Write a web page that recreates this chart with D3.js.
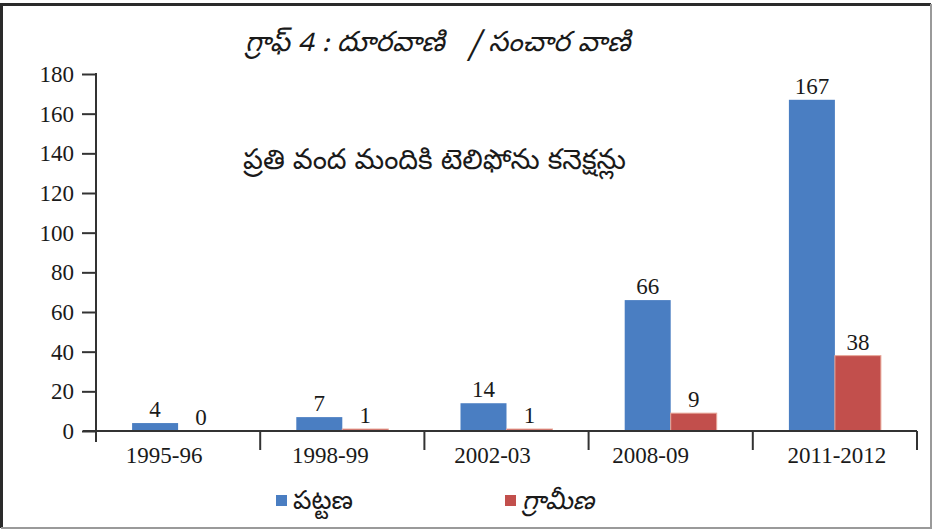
<!DOCTYPE html>
<html>
<head>
<meta charset="utf-8">
<script src="https://cdn.jsdelivr.net/npm/d3@7"></script>
<style>
  html, body { margin: 0; padding: 0; background: #fff; }
  svg text.num { font-family: "Liberation Serif", "Times New Roman", serif; fill: #1a1a1a; }
  svg text.te { font-family: "Noto Sans Telugu", "Noto Sans", "DejaVu Sans", sans-serif; fill: #1a1a1a; }
</style>
</head>
<body>
<svg id="chart" width="933" height="530"></svg>
<script>
// Telephone connections per hundred people, urban vs rural
const categories = ["1995-96", "1998-99", "2002-03", "2008-09", "2011-2012"];
const urbanValues = [4, 7, 14, 66, 167];
const ruralValues = [0, 1, 1, 9, 38];
const seriesNames = ["పట్టణ", "గ్రామీణ"];
const seriesColors = ["#4A7EC2", "#C24F4C"];
const yTicks = [0, 20, 40, 60, 80, 100, 120, 140, 160, 180];
const titleText = "గ్రాఫ్ 4 : దూరవాణి\u00a0\u00a0 / సంచార వాణి";
const subtitleText = "ప్రతి వంద మందికి టెలిఫోను కనెక్షన్లు";

// small horizontal nudges for the category labels under the axis
const categoryLabelShift = [-14, -12, -14, -20, 2];

const svg = d3.select("#chart");

// outer frame: dark top/left, grey right/bottom
svg.append("path").attr("d", "M1.5,528 L1.5,4.5 L931,4.5")
  .attr("fill", "none").attr("stroke", "#2a2a2a").attr("stroke-width", 3);
svg.append("path").attr("d", "M1,528 L931,528 L931,4")
  .attr("fill", "none").attr("stroke", "#9a9a9a").attr("stroke-width", 2);

const plot = { left: 96, right: 917, top: 74, bottom: 431 };

const x = d3.scaleBand().domain(categories).range([plot.left, plot.right]);
const y = d3.scaleLinear().domain([0, 180]).range([plot.bottom, plot.top]);

const barW = 46;
const rows = categories.map((c, i) => ({ cat: c, vals: [urbanValues[i], ruralValues[i]] }));

// bars
const groups = svg.append("g").selectAll("g").data(rows).join("g");
groups.selectAll("rect")
  .data(d => d.vals.map((v, k) => ({ cat: d.cat, v, k })))
  .join("rect")
  .attr("x", d => x(d.cat) + x.bandwidth() / 2 - barW + d.k * barW)
  .attr("y", d => y(d.v))
  .attr("width", barW)
  .attr("height", d => y(0) - y(d.v))
  .attr("fill", d => seriesColors[d.k])
  .attr("stroke", d => d.k === 1 ? "#e8a89a" : "none")
  .attr("stroke-width", d => d.k === 1 ? 1 : 0);

// value labels
groups.selectAll("text")
  .data(d => d.vals.map((v, k) => ({ cat: d.cat, v, k })))
  .join("text")
  .attr("class", "num")
  .attr("x", d => x(d.cat) + x.bandwidth() / 2 - barW / 2 + d.k * barW)
  .attr("y", d => y(d.v) - 6)
  .attr("text-anchor", "middle")
  .attr("font-size", 23)
  .text(d => d.v);

// y axis
const yAxis = d3.axisLeft(y).tickValues(yTicks).tickSize(14).tickPadding(8);
const gy = svg.append("g").attr("transform", `translate(${plot.left},0)`).call(yAxis);
gy.select(".domain").remove();
gy.selectAll(".tick line").attr("stroke", "#333").attr("stroke-width", 2);
gy.selectAll(".tick text").attr("class", "num").attr("font-size", 23)
  .attr("font-family", "Liberation Serif, serif").attr("fill", "#1a1a1a");
svg.append("line").attr("x1", plot.left).attr("x2", plot.left)
  .attr("y1", plot.top - 1).attr("y2", plot.bottom + 11)
  .attr("stroke", "#333").attr("stroke-width", 2);

// x axis with ticks at category boundaries
const gx = svg.append("g").attr("transform", `translate(0,${plot.bottom})`)
  .call(d3.axisBottom(x).tickSize(0).tickPadding(16));
gx.select(".domain").remove();
gx.selectAll(".tick text").attr("class", "num").attr("font-size", 23)
  .attr("font-family", "Liberation Serif, serif").attr("fill", "#1a1a1a")
  .attr("dx", (d, i) => categoryLabelShift[i]);
svg.append("line").attr("x1", plot.left - 13).attr("x2", plot.right)
  .attr("y1", plot.bottom).attr("y2", plot.bottom)
  .attr("stroke", "#333").attr("stroke-width", 2);
const bounds = categories.map(c => x(c) + x.bandwidth());
svg.append("g").selectAll("line").data(bounds).join("line")
  .attr("x1", d => d).attr("x2", d => d)
  .attr("y1", plot.bottom).attr("y2", plot.bottom + 19)
  .attr("stroke", "#333").attr("stroke-width", 2);

// title and subtitle
svg.append("text").attr("class", "te").attr("x", 245).attr("y", 51)
  .attr("font-size", 28).attr("font-style", "italic").text(titleText);
svg.append("text").attr("class", "te").attr("x", 243).attr("y", 169)
  .attr("font-size", 28).text(subtitleText);

// legend
const legendX = [276, 505];
const lg = svg.append("g").selectAll("g").data(seriesNames).join("g")
  .attr("transform", (d, i) => `translate(${legendX[i]},495)`);
lg.append("rect").attr("width", 11).attr("height", 11).attr("y", 0)
  .attr("fill", (d, i) => seriesColors[i]);
lg.append("text").attr("class", "te").attr("x", 17).attr("y", 14)
  .attr("font-size", 26).attr("font-style", (d, i) => i === 1 ? "italic" : "normal")
  .text(d => d);
</script>
</body>
</html>
